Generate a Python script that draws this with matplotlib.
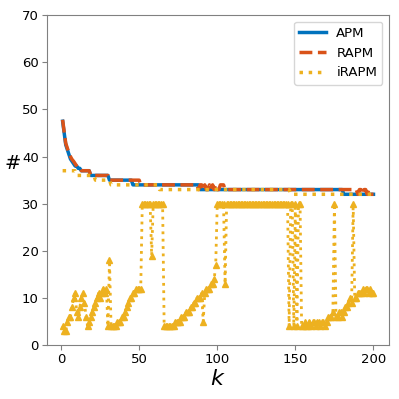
import matplotlib
matplotlib.use("Agg")
import matplotlib.pyplot as plt
import numpy as np

k = np.arange(1, 201)

# APM: best value found up to k
apm = ([47.5, 45, 42.5, 41.5, 40.5, 39.5, 39, 38.5, 38, 38, 37.5, 37.5]
       + [37] * 6 + [36] * 12 + [35] * 15 + [34] * 43 + [33] * 92 + [32] * 20)

# RAPM
rapm = ([47.8, 45.2, 42.8, 41.8, 40.8, 40, 39.4, 39, 38.5, 38, 37.5, 37.5]
        + [37] * 6 + [36] * 12 + [35] * 20 + [34] * 37
        + [33, 34, 34, 33, 34, 33, 33, 34, 33, 34, 33, 34, 33, 33, 34, 34, 34, 33]
        + [33] * 83
        + [33, 32, 33, 33, 32, 33, 33, 32, 33, 32, 32, 32])

# iRAPM: best value
irapm_best = [37] * 9 + [36] * 12 + [35] * 10 + [34] * 31 + [33] * 84 + [32] * 54

# iRAPM: value at iteration k
irapm_k = ([4, 3, 3, 5, 6, 6, 8, 10, 11, 7, 6, 8, 10, 11, 9, 6, 4, 5, 6, 7,
            8, 9, 10, 11, 10, 11, 12, 11, 12, 4, 18, 4, 4, 4, 4, 5, 5, 5, 6, 6,
            7, 8, 9, 10, 10, 11, 11, 12, 12, 12, 12]
           + [30] * 6 + [19] + [30] * 7
           + [4] * 7 + [5, 5, 5, 5, 6, 6, 6, 7, 7, 7, 8, 8, 9, 9, 10, 10, 10,
                        11, 5, 11, 12, 12, 12, 13, 13, 14, 17]
           + [30] * 5 + [13] + [30] * 40
           + [4, 30, 30, 4, 30, 4, 30, 30, 4]
           + [4, 5, 4, 4, 5, 4, 5, 5, 4, 5, 5, 4, 5, 5, 4, 5, 6, 6, 6, 7, 30,
              6, 6, 7, 7, 6, 7, 8, 8, 9, 10, 9, 30, 10, 10, 11, 11, 11, 12,
              11, 12, 12, 11, 12, 11, 11])

blue = "#0072BD"
red = "#D95319"
yellow = "#EDB120"

fig = plt.figure(figsize=(3.99, 3.99), dpi=100)
ax = fig.add_axes([0.118, 0.135, 0.857, 0.827])

ax.plot(k, irapm_k, ":", color=yellow, lw=2, marker="^", ms=5)
ax.plot(k, apm, "-", color=blue, lw=2.5, label="APM")
ax.plot(k, rapm, "--", color=red, lw=2.5, label="RAPM")
ax.plot(k, irapm_best, ":", color=yellow, lw=2.5, label="iRAPM")

ax.set_ylim(0, 70)
ax.set_yticks(np.arange(0, 71, 10))
ax.set_xticks([0, 50, 100, 150, 200])
for s in ax.spines.values():
    s.set_color("#808080")
ax.tick_params(labelsize=9.5, color="#808080", pad=2.5)
ax.set_xlabel("$k$", fontsize=16, labelpad=2)
ax.set_ylabel("#", fontsize=14, rotation=0, va="center", ha="center")
ax.yaxis.set_label_coords(-0.1, 0.55)
ax.legend(loc="upper right", fontsize=9.5)

fig.savefig("out.png", dpi=100)
